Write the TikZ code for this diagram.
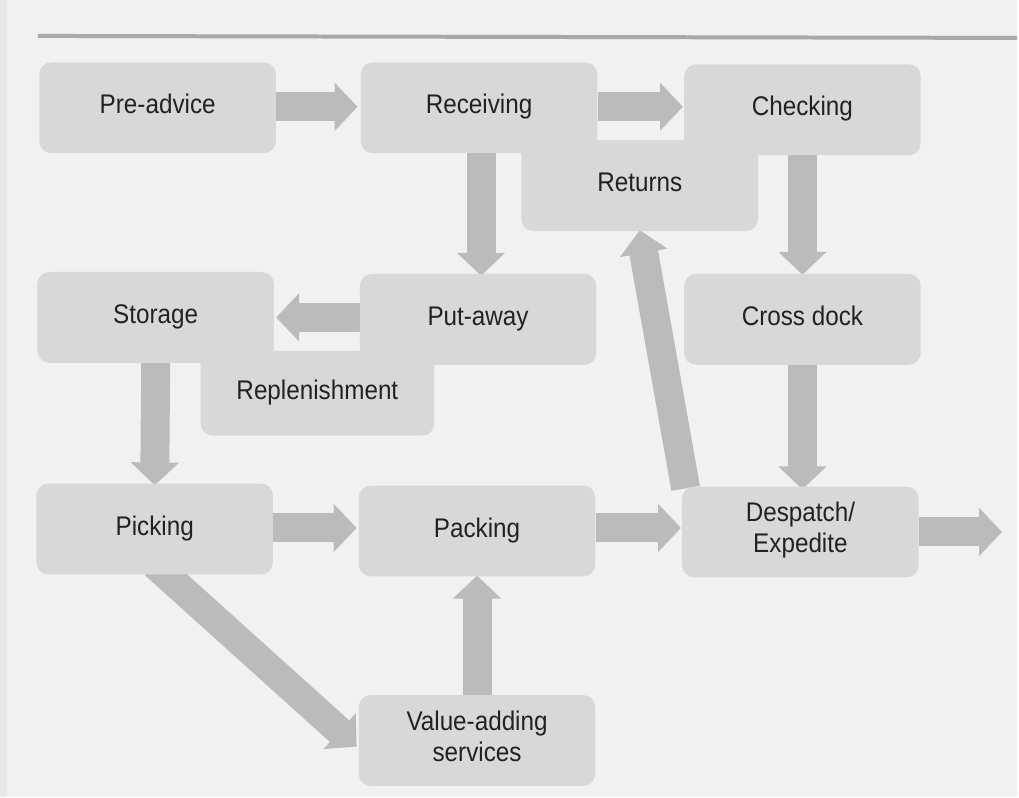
\documentclass[tikz,border=0pt]{standalone}
\usepackage{fontspec}
\setmainfont{Liberation Sans}[FakeStretch=0.9]
\usetikzlibrary{arrows.meta}
\pgfdeclarelayer{pagelayer}
\pgfdeclarelayer{arrowlayer}
\pgfsetlayers{pagelayer,arrowlayer,main}
\definecolor{pagebg}{HTML}{F1F1F1}
\definecolor{boxgray}{HTML}{D8D8D8}
\definecolor{arrgray}{HTML}{BBBBBB}
\definecolor{rulegray}{HTML}{A9A9A9}
\definecolor{txt}{HTML}{222222}
\tikzset{
  procbox/.style={fill=boxgray, draw=none, rounded corners=12pt, minimum width=#1, minimum height=91pt,
    inner sep=0pt, align=center, text=txt, font=\fontsize{27pt}{31pt}\selectfont,
    execute at begin node=\strut},
  procbox/.default=237pt,
  flow/.style={draw=arrgray, line width=29pt, -{Triangle[width=47pt,length=23pt]}}
}
\begin{document}
\begin{tikzpicture}[x=1pt,y=-1pt]
\begin{pgfonlayer}{pagelayer}
\fill[pagebg] (0,0) rectangle (1019,799);
\fill[black!9] (0,0) rectangle (7,799);
\draw[rulegray, line width=4pt] (38,36) -- (1019,38);
\end{pgfonlayer}
\useasboundingbox (0,0) rectangle (1019,799);

\node[procbox] (pre) at (158,108) {Pre-advice};
\node[procbox] (rec) at (480,108) {Receiving};
\node[procbox] (chk) at (804,110) {Checking};
\node[procbox] (ret) at (641,186) {Returns};
\node[procbox] (sto) at (156,318) {Storage};
\node[procbox] (put) at (479,320) {Put-away};
\node[procbox] (crd) at (804,320) {Cross dock};
\node[procbox=234pt, minimum height=85pt] (rep) at (318,394) {Replenishment};
\node[procbox] (pic) at (155,530) {Picking};
\node[procbox] (pac) at (478,532) {Packing};
\node[procbox] (des) at (802,533) {Despatch/\\\strut Expedite};
\node[procbox] (val) at (478,742) {Value-adding\\\strut services};
\coordinate (out) at (1004,533);

\begin{pgfonlayer}{arrowlayer}
\draw[flow] (pre.east |- 0,107) -- ([xshift=-3pt]rec.west |- 0,107);
\draw[flow] (rec.east |- 0,107) -- ([xshift=-1pt]chk.west |- 0,107);
\draw[flow] (rec.south -| 482,0) -- ([yshift=-2pt]put.north -| 482,0);
\draw[flow] (chk.south -| 804,0) -- ([yshift=-1pt]crd.north -| 804,0);
\draw[flow] (put.west |- 0,318) -- ([xshift=2pt]sto.east |- 0,318);
\draw[flow] (sto.south) -- ([yshift=-2pt]pic.north);
\draw[flow] (crd.south) -- ([yshift=-3pt]des.north -| crd.south);
\draw[flow] ([xshift=-115pt,yshift=-2pt]des.north) -- ([yshift=1pt]ret.south);
\draw[flow] (pic.east |- 0,529) -- ([xshift=-2pt]pac.west |- 0,529);
\draw[flow] (pac.east |- 0,529) -- ([xshift=-1pt]des.west |- 0,529);
\draw[flow] (des.east |- out) -- (out);
\draw[flow] (val.north) -- ([yshift=1pt]pac.south);
\draw[flow] ([yshift=10pt]pic.south) -- ([xshift=-2pt,yshift=-6pt]val.west);
\end{pgfonlayer}
\end{tikzpicture}
\end{document}
